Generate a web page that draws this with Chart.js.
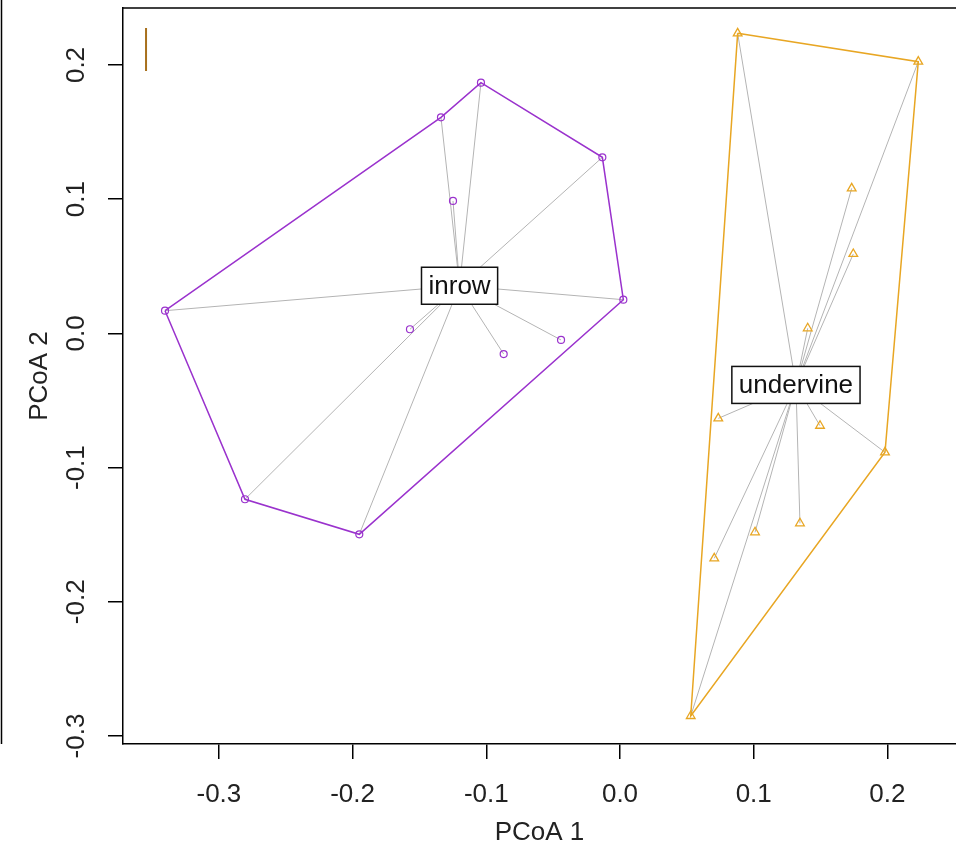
<!DOCTYPE html>
<html>
<head>
<meta charset="utf-8">
<script src="https://cdn.jsdelivr.net/npm/chart.js@4"></script>
<style>
html, body { margin: 0; padding: 0; background: #fff; }
#wrap { width: 956px; height: 849px; }
</style>
</head>
<body>
<div id="wrap"><canvas id="pcoa" width="956" height="849"></canvas></div>
<script>
// Data
const groups = ["inrow", "undervine"];
const inrowX = [-0.1040, -0.1339, -0.0132, -0.1249, 0.0025, -0.1571, -0.0441, -0.0870, -0.3403, -0.2805, -0.1950];
const inrowY = [0.1868, 0.1610, 0.1312, 0.0987, 0.0251, 0.0031, -0.0049, -0.0154, 0.0169, -0.1236, -0.1497];
const undervineX = [0.0880, 0.2231, 0.1733, 0.1745, 0.1404, 0.0735, 0.1496, 0.1982, 0.1346, 0.1010, 0.0705, 0.0529];
const undervineY = [0.2236, 0.2025, 0.1081, 0.0592, 0.0038, -0.0633, -0.0688, -0.0886, -0.1415, -0.1482, -0.1676, -0.2851];
const centroidX = [-0.1200, 0.1316];
const centroidY = [0.0355, -0.0384];
const inrowHull = [8, 1, 0, 2, 4, 10, 9];
const undervineHull = [0, 1, 7, 11];
const markX = [-0.3545, -0.3545];
const markY = [0.2276, 0.1955];
const xTicks = [-0.3, -0.2, -0.1, 0.0, 0.1, 0.2];
const yTicks = [-0.3, -0.2, -0.1, 0.0, 0.1, 0.2];

const purple = "#9A32CD";
const orange = "#E8A623";
const spiderGrey = "#b4b4b4";
const textFont = "'Liberation Sans', Arial, sans-serif";

// Helpers
function toPoints(xs, ys) {
    return xs.map((x, i) => ({x: x, y: ys[i]}));
}

function hullPoints(xs, ys, idx) {
    const pts = idx.map(i => ({x: xs[i], y: ys[i]}));
    pts.push(pts[0]);
    return pts;
}

function spiderPoints(xs, ys, g) {
    var pts = [];
    for (let i = 0; i < xs.length; i++) {
        pts.push({x: centroidX[g], y: centroidY[g]});
        pts.push({x: xs[i], y: ys[i]});
        pts.push({x: xs[i], y: null});
    }
    return pts;
}

// Decorations: box top line, outer panel line, y tick labels, group labels
const decorPlugin = {
    id: "decor",
    afterDraw(chart) {
        const ctx = chart.ctx;
        const area = chart.chartArea;
        const xs = chart.scales.x;
        const ys = chart.scales.y;
        ctx.save();
        ctx.strokeStyle = "#000";
        ctx.lineWidth = 1.5;
        ctx.beginPath();
        ctx.moveTo(area.left, area.top);
        ctx.lineTo(area.right, area.top);
        ctx.stroke();
        ctx.beginPath();
        ctx.moveTo(1.5, 0);
        ctx.lineTo(1.5, area.bottom);
        ctx.stroke();

        ctx.fillStyle = "#222";
        ctx.font = "26px " + textFont;
        ctx.textAlign = "center";
        ctx.textBaseline = "middle";
        for (let t of yTicks) {
            const py = ys.getPixelForValue(t);
            ctx.save();
            ctx.translate(77, py);
            ctx.rotate(-Math.PI / 2);
            ctx.fillText(t.toFixed(1), 0, 0);
            ctx.restore();
        }

        for (let g = 0; g < groups.length; g++) {
            const cx = xs.getPixelForValue(centroidX[g]);
            const cy = ys.getPixelForValue(centroidY[g]);
            const w = ctx.measureText(groups[g]).width + 14;
            const h = 37;
            ctx.fillStyle = "#fff";
            ctx.fillRect(cx - w / 2, cy - h / 2, w, h);
            ctx.strokeStyle = "#111";
            ctx.lineWidth = 1.5;
            ctx.strokeRect(cx - w / 2, cy - h / 2, w, h);
            ctx.fillStyle = "#111";
            ctx.fillText(groups[g], cx, cy + 1);
        }
        ctx.restore();
    }
};

const data = {
    datasets: [
        {
            label: "inrow",
            data: toPoints(inrowX, inrowY),
            showLine: false,
            pointStyle: "circle",
            pointRadius: 3.5,
            borderColor: purple,
            backgroundColor: "rgba(0,0,0,0)",
            borderWidth: 1.2,
            order: 0
        },
        {
            label: "undervine",
            data: toPoints(undervineX, undervineY),
            showLine: false,
            pointStyle: "triangle",
            pointRadius: 5,
            borderColor: orange,
            backgroundColor: "rgba(0,0,0,0)",
            borderWidth: 1.3,
            order: 0
        },
        {
            label: "inrow hull",
            data: hullPoints(inrowX, inrowY, inrowHull),
            showLine: true,
            pointRadius: 0,
            borderColor: purple,
            borderWidth: 1.5,
            fill: false,
            order: 1
        },
        {
            label: "undervine hull",
            data: hullPoints(undervineX, undervineY, undervineHull),
            showLine: true,
            pointRadius: 0,
            borderColor: orange,
            borderWidth: 1.5,
            fill: false,
            order: 1
        },
        {
            label: "inrow spider",
            data: spiderPoints(inrowX, inrowY, 0),
            showLine: true,
            spanGaps: false,
            pointRadius: 0,
            borderColor: spiderGrey,
            borderWidth: 1,
            order: 2
        },
        {
            label: "undervine spider",
            data: spiderPoints(undervineX, undervineY, 1),
            showLine: true,
            spanGaps: false,
            pointRadius: 0,
            borderColor: spiderGrey,
            borderWidth: 1,
            order: 2
        },
        {
            label: "mark",
            data: toPoints(markX, markY),
            showLine: true,
            pointRadius: 0,
            borderColor: "#a8701c",
            borderWidth: 2,
            order: 1
        }
    ]
};

var chart = new Chart(document.getElementById("pcoa"), {
    type: "scatter",
    data: data,
    options: {
        responsive: false,
        animation: false,
        devicePixelRatio: 1,
        layout: { autoPadding: false, padding: { top: 8, right: 0, left: 0, bottom: 0 } },
        plugins: {
            legend: { display: false },
            tooltip: { enabled: false }
        },
        scales: {
            x: {
                type: "linear",
                min: -0.37173,
                max: 0.25131,
                afterFit: (scale) => {
                    scale.height = 105;
                    scale.paddingLeft = 0;
                    scale.paddingRight = 0;
                },
                afterBuildTicks: (scale) => { scale.ticks = xTicks.map(v => ({value: v})); },
                ticks: {
                    color: "#222",
                    font: { family: textFont, size: 26 },
                    padding: 20,
                    maxRotation: 0,
                    callback: (v) => (Math.round(v * 10) / 10).toFixed(1)
                },
                grid: { drawOnChartArea: false, drawTicks: true, tickLength: 15, color: "#000", lineWidth: 1.5 },
                border: { display: true, color: "#000", width: 1.5 },
                title: {
                    display: true,
                    text: "PCoA 1",
                    color: "#222",
                    font: { family: textFont, size: 26 },
                    padding: { top: 0, bottom: 1 }
                }
            },
            y: {
                type: "linear",
                min: -0.30596,
                max: 0.24247,
                afterFit: (scale) => {
                    scale.width = 123;
                    scale.paddingTop = 0;
                    scale.paddingBottom = 0;
                },
                afterBuildTicks: (scale) => { scale.ticks = yTicks.map(v => ({value: v})); },
                ticks: { display: false },
                grid: { drawOnChartArea: false, drawTicks: true, tickLength: 15, color: "#000", lineWidth: 1.5 },
                border: { display: true, color: "#000", width: 1.5 },
                title: {
                    display: true,
                    text: "PCoA 2",
                    color: "#222",
                    font: { family: textFont, size: 26 },
                    padding: { top: 24, bottom: 0 }
                }
            }
        }
    },
    plugins: [decorPlugin]
});
</script>
</body>
</html>
